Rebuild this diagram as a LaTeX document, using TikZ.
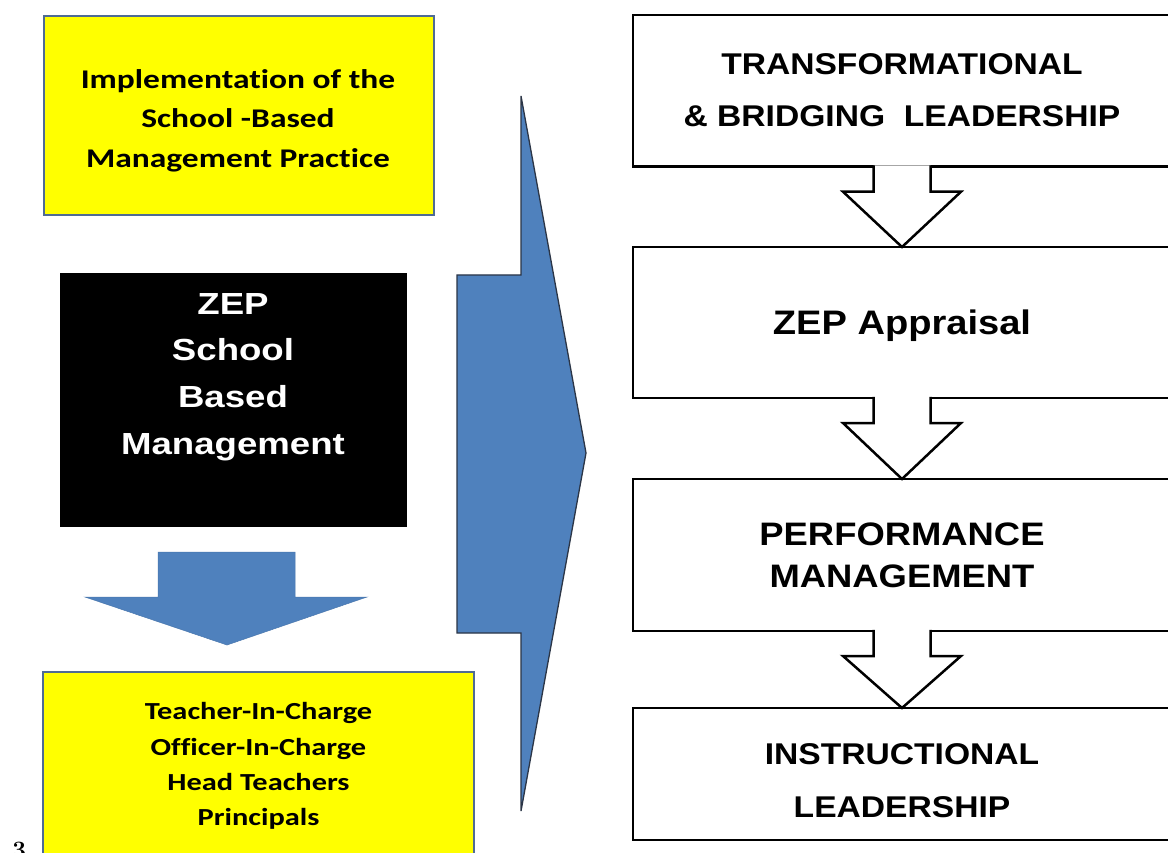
\documentclass[tikz,border=0pt]{standalone}
\usepackage{fontspec}
\usetikzlibrary{calc}
% Faces used in the chart: a widened Arial-like sans and a widened Calibri-like sans
\newfontfamily\flowfont{Liberation Sans}[FakeStretch=1.12]
\newfontfamily\corefont{Liberation Sans}[FakeStretch=1.2]
\newfontfamily\notefont{Carlito}[FakeStretch=1.24, Ligatures=NoCommon]
\definecolor{noteyellow}{HTML}{FFFF00}
\definecolor{noteline}{HTML}{4F6B94}
\definecolor{arrowblue}{HTML}{4F81BD}
\definecolor{arrowedge}{HTML}{2B3546}

% Outlined block arrow leaving the bottom of one stage box and pointing at the next
\newcommand{\stagearrow}[2]{%
  \filldraw[fill=white, draw=black, line width=2.5pt, miter limit=10]
    ($(#1.south)+(-28.5,-1.25)$) -- ($(#1.south)+(-28.5,25)$) -- ($(#1.south)+(-59,25)$)
    -- (#2.north) -- ($(#1.south)+(59,25)$) -- ($(#1.south)+(28.5,25)$)
    -- ($(#1.south)+(28.5,-1.25)$);
}

\begin{document}
\begin{tikzpicture}[x=1pt,y=-1pt,
  notebox/.style={draw=noteline, fill=noteyellow, line width=2.5pt, inner sep=0pt, outer sep=0pt},
  notetext/.style={align=center, inner sep=0pt},
  stagebox/.style={draw=black, fill=white, line width=2.5pt, inner sep=0pt, outer sep=0pt,
                   minimum width=538pt},
  stagetext/.style={align=center, inner sep=0pt},
]
\useasboundingbox (0,0) rectangle (1168,853);
\fill[white] (0,0) rectangle (1168,853);

% ---- left column ----
\node[notebox, minimum width=390pt, minimum height=199pt] (impl) at (239,115.5) {};
\node[notetext, font=\notefont\bfseries\fontsize{27}{39.5}\selectfont] (impltext) at (238,120.5)
  {Implementation of the\\School -Based\\Management Practice};

\node[fill=black, draw=black, line width=0.6pt, inner sep=0pt,
      minimum width=346pt, minimum height=253pt] (core) at (233,399.5) {};
\node[align=center, inner sep=0pt, text=white,
      font=\corefont\bfseries\fontsize{30.5}{46.7}\selectfont] (coretext) at (233,377)
  {ZEP\\School\\Based\\Management};

% downward block arrow under the black box
\filldraw[fill=arrowblue, draw=arrowblue!92!black, line width=0.5pt]
  (158,552) -- (295,552) -- (295,597) -- (367,597) -- (227,645) -- (85,597) -- (158,597) -- cycle;

\node[notebox, minimum width=431pt, minimum height=210pt] (roles) at (258.5,777) {};
\node[notetext, font=\notefont\bfseries\fontsize{24.5}{35.3}\selectfont] (rolestext) at (258.5,766)
  {Teacher-In-Charge\\Officer-In-Charge\\Head Teachers\\Principals};

\node[anchor=north west, inner sep=0pt, font=\fontsize{25}{25}\selectfont\bfseries] (pagenum) at (12,842) {3};

% ---- large block arrow in the middle ----
\draw[fill=arrowblue, draw=arrowedge, line width=1.3pt, line join=miter]
  (457,275) -- (521,275) -- (521,96) -- (586,453) -- (521,811) -- (521,633) -- (457,633) -- cycle;

% ---- right column: stages ----
\node[stagebox, minimum height=151.7pt] (s1) at (902,90.85) {};
\node[stagebox, minimum height=151pt]   (s2) at (902,322.5) {};
\node[stagebox, minimum height=152pt]   (s3) at (902,555) {};
\node[stagebox, minimum height=132pt]   (s4) at (902,774) {};

\node[stagetext, font=\flowfont\bfseries\fontsize{30}{52.3}\selectfont] (s1text) at (902,90.5)
  {TRANSFORMATIONAL\\\&~BRIDGING~~LEADERSHIP};
\node[stagetext, font=\flowfont\bfseries\fontsize{34}{40}\selectfont] (s2text) at (902,326)
  {ZEP Appraisal};
\node[stagetext, font=\flowfont\bfseries\fontsize{32.5}{42.3}\selectfont] (s3text) at (902,555)
  {PERFORMANCE\\MANAGEMENT};
\node[stagetext, font=\flowfont\bfseries\fontsize{30}{53.3}\selectfont] (s4text) at (902,780.8)
  {INSTRUCTIONAL\\LEADERSHIP};

\stagearrow{s1}{s2}
\stagearrow{s2}{s3}
\stagearrow{s3}{s4}
\end{tikzpicture}
\end{document}
